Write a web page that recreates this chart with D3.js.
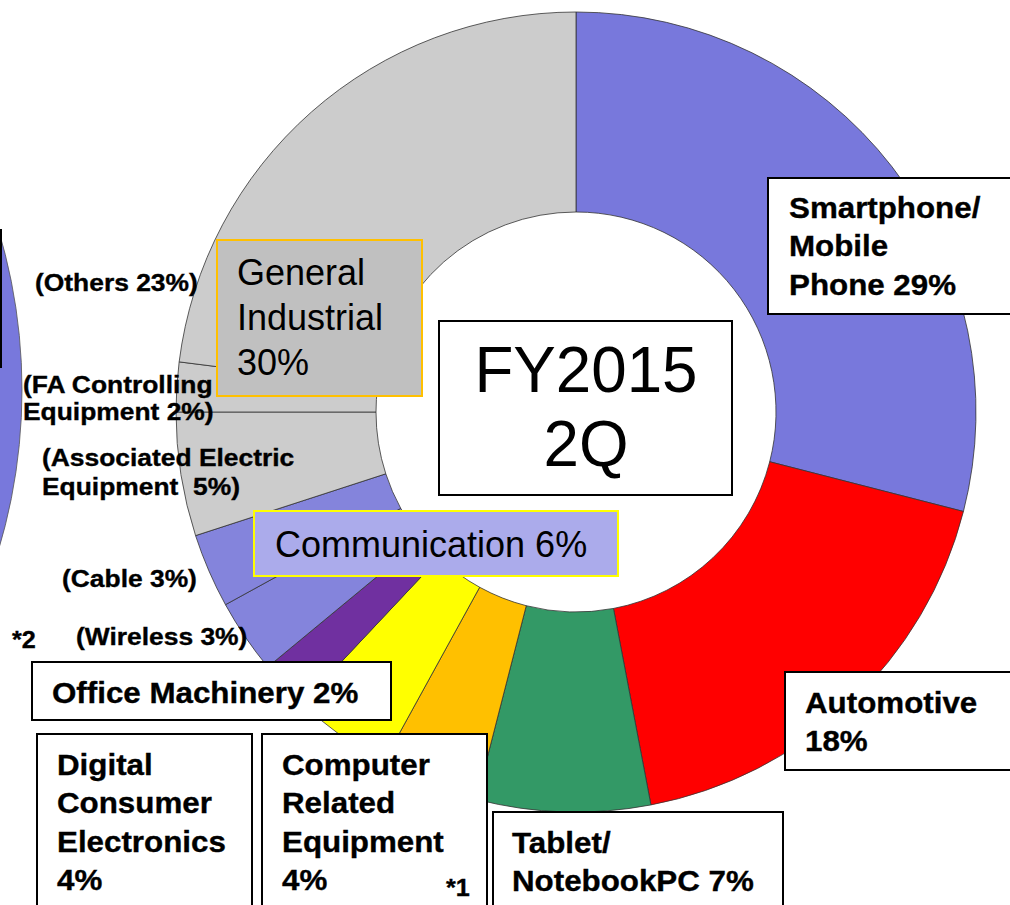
<!DOCTYPE html>
<html>
<head>
<meta charset="utf-8">
<script src="https://cdn.jsdelivr.net/npm/d3@7"></script>
<style>
  body { margin: 0; background: #fff; }
  svg { display: block; }
  text { font-family: "Liberation Sans", Arial, sans-serif; fill: #000; }
</style>
</head>
<body>
<svg id="chart" width="1010" height="905"></svg>
<script>
'use strict';

// slices clockwise from 12 o'clock
var categories = ["Smartphone/Mobile Phone", "Automotive", "Tablet/NotebookPC",
    "Computer Related Equipment", "Digital Consumer Electronics", "Office Machinery",
    "Wireless", "Cable", "Associated Electric Equipment", "FA Controlling Equipment", "Others"];
var shares = [29, 18, 7, 4, 4, 2, 3, 3, 5, 2, 23];
var sliceColors = ["#7878dc", "#ff0000", "#339966", "#ffc000", "#ffff00", "#7030a0",
    "#8484dc", "#8484dc", "#cccccc", "#cccccc", "#cccccc"];

var periodLabel = ["FY2015", "2Q"];
var groupLabels = [["General", "Industrial", "30%"], ["Communication 6%"]];
var boxedLabels = [
    ["Smartphone/", "Mobile", "Phone 29%"],
    ["Automotive", "18%"],
    ["Tablet/", "NotebookPC 7%"],
    ["Computer", "Related", "Equipment", "4%"],
    ["Digital", "Consumer", "Electronics", "4%"],
    ["Office Machinery 2%"]
];
var subLabels = [
    ["(Others 23%)"],
    ["(FA Controlling", "Equipment 2%)"],
    ["(Associated Electric", "Equipment  5%)"],
    ["(Cable 3%)"],
    ["(Wireless 3%)"]
];
var notes = ["*1", "*2"];

var svg = d3.select("#chart");
var cx = 576, cy = 412;

var color = d3.scaleOrdinal(categories, sliceColors);

// previous period ring, cut off at the left border
var prevArc = d3.arc().innerRadius(0).outerRadius(557);
svg.append("g")
    .attr("transform", "translate(-535,390)")
    .selectAll("path")
    .data(d3.pie().sort(null)([100]))
    .enter().append("path")
    .attr("d", prevArc)
    .style("fill", "#7878dc")
    .style("stroke", "#555")
    .style("stroke-width", 0.8);
svg.append("rect")
    .attr("x", -200).attr("y", 230).attr("width", 201).attr("height", 137)
    .style("fill", "none").style("stroke", "#000").style("stroke-width", 2);

var pie = d3.pie().sort(null).value(function(d) { return d; });
var arc = d3.arc().innerRadius(200).outerRadius(400);

svg.append("g")
    .attr("transform", "translate(" + cx + "," + cy + ")")
    .selectAll("path")
    .data(pie(shares))
    .enter().append("path")
    .attr("d", arc)
    .style("fill", function(d, i) { return color(categories[i]); })
    .style("stroke", "#333")
    .style("stroke-width", 0.8);

var addLines = function(lines, x, y, lineH, size, weight, sx, anchor) {
    var t = svg.append("text")
        .attr("transform", "translate(" + x + "," + y + ") scale(" + sx + ",1)")
        .style("font-size", size + "px")
        .style("font-weight", weight)
        .attr("text-anchor", anchor || "start");
    if (weight === "bold") {
        t.style("stroke", "#000").style("stroke-width", 0.35);
    }
    lines.forEach(function(line, i) {
        t.append("tspan")
            .attr("x", 0)
            .attr("dy", i === 0 ? 0 : lineH)
            .style("white-space", "pre")
            .text(line);
    });
    return t;
};

var addBox = function(x, y, w, h, fill, stroke, sw) {
    svg.append("rect")
        .attr("x", x).attr("y", y).attr("width", w).attr("height", h)
        .style("fill", fill).style("stroke", stroke).style("stroke-width", sw);
};

// boxed category labels: box x, y, w, h, text x, first baseline
var boxLayout = [
    [768, 178, 260, 136, 789, 218],
    [785, 672, 240, 98, 805, 713],
    [493, 812, 290, 110, 512, 853],
    [262, 734, 225, 190, 282, 775],
    [37, 734, 215, 190, 57, 775],
    [32, 662, 359, 58, 52, 703]
];
boxedLabels.forEach(function(lines, i) {
    var b = boxLayout[i];
    addBox(b[0], b[1], b[2], b[3], "#fff", "#000", 2);
    addLines(lines, b[4], b[5], 38.5, 29, "bold", 1.08);
});

// centre box
addBox(439, 321, 293, 174, "#fff", "#000", 2);
addLines(periodLabel, 586, 392, 74, 65, "normal", 0.98, "middle");

// group boxes
addBox(217, 240, 205, 156, "#c0c0c0", "#ffc000", 2);
addLines(groupLabels[0], 237, 285, 45, 36, "normal", 1.0);
addBox(254, 511, 364, 65, "#ababeb", "#ffff00", 2);
addLines(groupLabels[1], 275, 557, 40, 36, "normal", 1.0);

// sub-category labels
var subLayout = [[35, 291, 27], [23, 393, 27], [42, 466, 29], [62, 587, 29], [76, 645, 29]];
subLabels.forEach(function(lines, i) {
    var p = subLayout[i];
    addLines(lines, p[0], p[1], p[2], 24, "bold", 1.1);
});

addLines([notes[0]], 446, 896, 24, 24, "bold", 1.05);
addLines([notes[1]], 12, 648, 24, 24, "bold", 1.05);
</script>
</body>
</html>
